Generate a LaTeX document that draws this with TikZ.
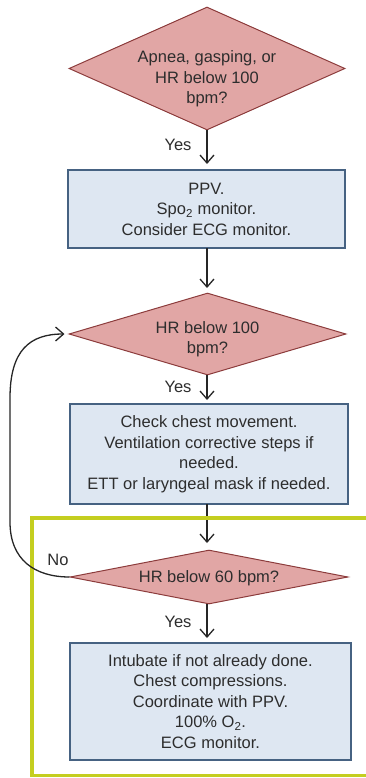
\documentclass[tikz,border=0pt]{standalone}
\usepackage{fontspec}
\setmainfont{Liberation Sans}
\usetikzlibrary{shapes.geometric,arrows.meta}
\definecolor{dfill}{RGB}{225,166,165}
\definecolor{ddraw}{RGB}{140,60,60}
\definecolor{bfill}{RGB}{222,231,242}
\definecolor{bdraw}{RGB}{70,98,130}
\definecolor{txt}{RGB}{45,45,45}
\definecolor{framecol}{RGB}{196,206,32}
\begin{document}
\begin{tikzpicture}[x=1pt,y=-1pt,
  every node/.style={font=\fontsize{16.5}{20.5}\selectfont, text=txt},
  dec/.style={diamond, draw=ddraw, fill=dfill, line width=1pt, inner sep=0pt},
  dtext/.style={align=center, inner sep=0pt},
  box/.style={rectangle, draw=bdraw, fill=bfill, line width=1.2pt, align=center, inner sep=0pt},
  arr/.style={draw=black!85, line width=1.3pt, -{Straight Barb[length=8pt,width=14pt]}},
  lbl/.style={inner sep=0pt},
]
\useasboundingbox (0,0) rectangle (365,778);

\node[dec, minimum width=276pt, minimum height=123pt] (d1) at (207,68.5) {};
\node[dtext] (t1) at (207,79) {Apnea, gasping, or\\HR below 100\\bpm?};

\node[box, minimum width=277pt, minimum height=78pt] (b1) at (206.5,209)
  {PPV.\\Spo\textsubscript{2} monitor.\\Consider ECG monitor.};

\node[dec, minimum width=277pt, minimum height=82pt] (d2) at (207.5,334) {};
\node[dtext] (t2) at (207.5,339) {HR below 100\\bpm?};

\node[box, minimum width=278pt, minimum height=100pt] (b2) at (209,454)
  {Check chest movement.\\Ventilation corrective steps if\\needed.\\ETT or laryngeal mask if needed.};

\node[dec, minimum width=278pt, minimum height=54pt] (d3) at (209,577) {};
\node[dtext] (t3) at (209,578) {HR below 60 bpm?};

\node[box, minimum width=281pt, minimum height=117pt] (b3) at (210.5,701.5)
  {Intubate if not already done.\\Chest compressions.\\Coordinate with PPV.\\100\% O\textsubscript{2}.\\ECG monitor.};

\node[lbl] (y1) at (178,145) {Yes};
\node[lbl] (y2) at (178,387) {Yes};
\node[lbl] (y3) at (178,622) {Yes};
\node[lbl] (no) at (58,560) {No};

\coordinate (la) at (10,522);
\coordinate (lb) at (10,398);

\draw[arr, shorten >=6pt] (207,130) -- (207,170);
\draw[arr, shorten >=5pt] (207,248) -- (207,293);
\draw[arr, shorten >=4pt] (207,375) -- (207,404);
\draw[arr, shorten >=7pt] (207,504) -- (207,550);
\draw[arr, shorten >=5pt] (207,604) -- (207,643);

\draw[framecol, line width=3.5pt] (390,518) -- (32,518) -- (32,775.5) -- (390,775.5);

\draw[arr, shorten >=4pt] (d3.west) .. controls (35,577) and (10,560) .. (la) -- (lb)
  .. controls (10,350) and (30,334) .. (d2.west);
\end{tikzpicture}
\end{document}
